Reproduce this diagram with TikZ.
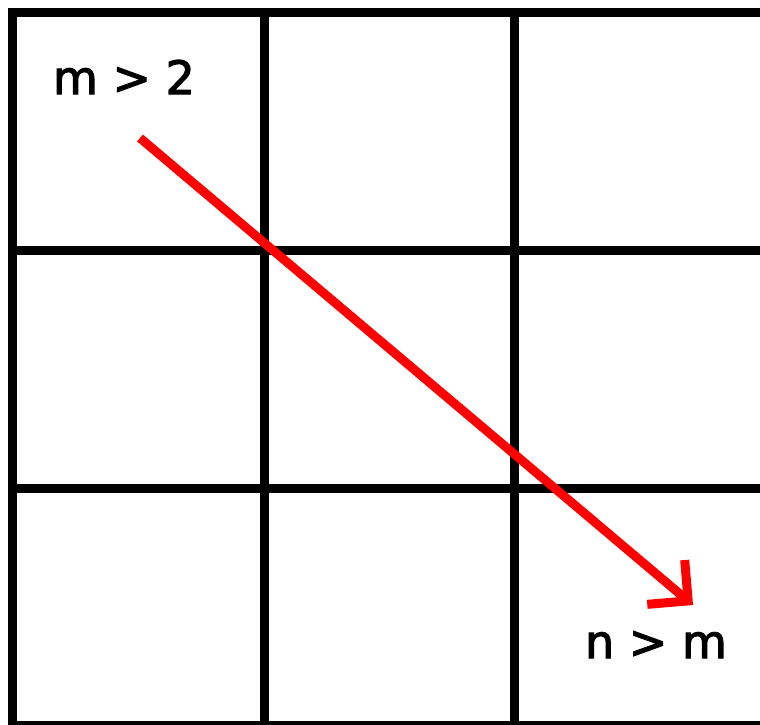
\documentclass[tikz,border=0pt]{standalone}
\usepackage{fontspec}
\setmainfont{DejaVu Sans}
\newfontfamily\lblfont[FakeBold=2.5]{DejaVu Sans}
\usetikzlibrary{arrows.meta}
\begin{document}
\begin{tikzpicture}[x=1pt,y=-1pt,
  gridline/.style={draw=black,line width=9pt,line cap=butt},
  arrowline/.style={draw=red,line width=9pt,line cap=butt,
    -{Straight Barb[length=29pt,width=58pt,sharp]}},
  lbl/.style={font=\lblfont\fontsize{46}{54}\selectfont,inner sep=0pt,anchor=base}]
\useasboundingbox (0,0) rectangle (760,725);
\fill[white] (0,0) rectangle (760,725);
\begin{scope}
\clip (0,0) rectangle (760,725);
% horizontal lines
\foreach \y in {13,250,488,725} \draw[gridline] (8.3,\y) -- (770,\y);
% vertical lines
\foreach \x in {12.8,264,514.5} \draw[gridline] (\x,8.5) -- (\x,735);
\end{scope}
\node[lbl] (m2) at (124,94) {m > 2};
\node[lbl] (nm) at (656,658) {n > m};
\coordinate (s) at (140,138);
\coordinate (t) at (693,605);
\draw[arrowline] (s) -- (t);
\end{tikzpicture}
\end{document}
